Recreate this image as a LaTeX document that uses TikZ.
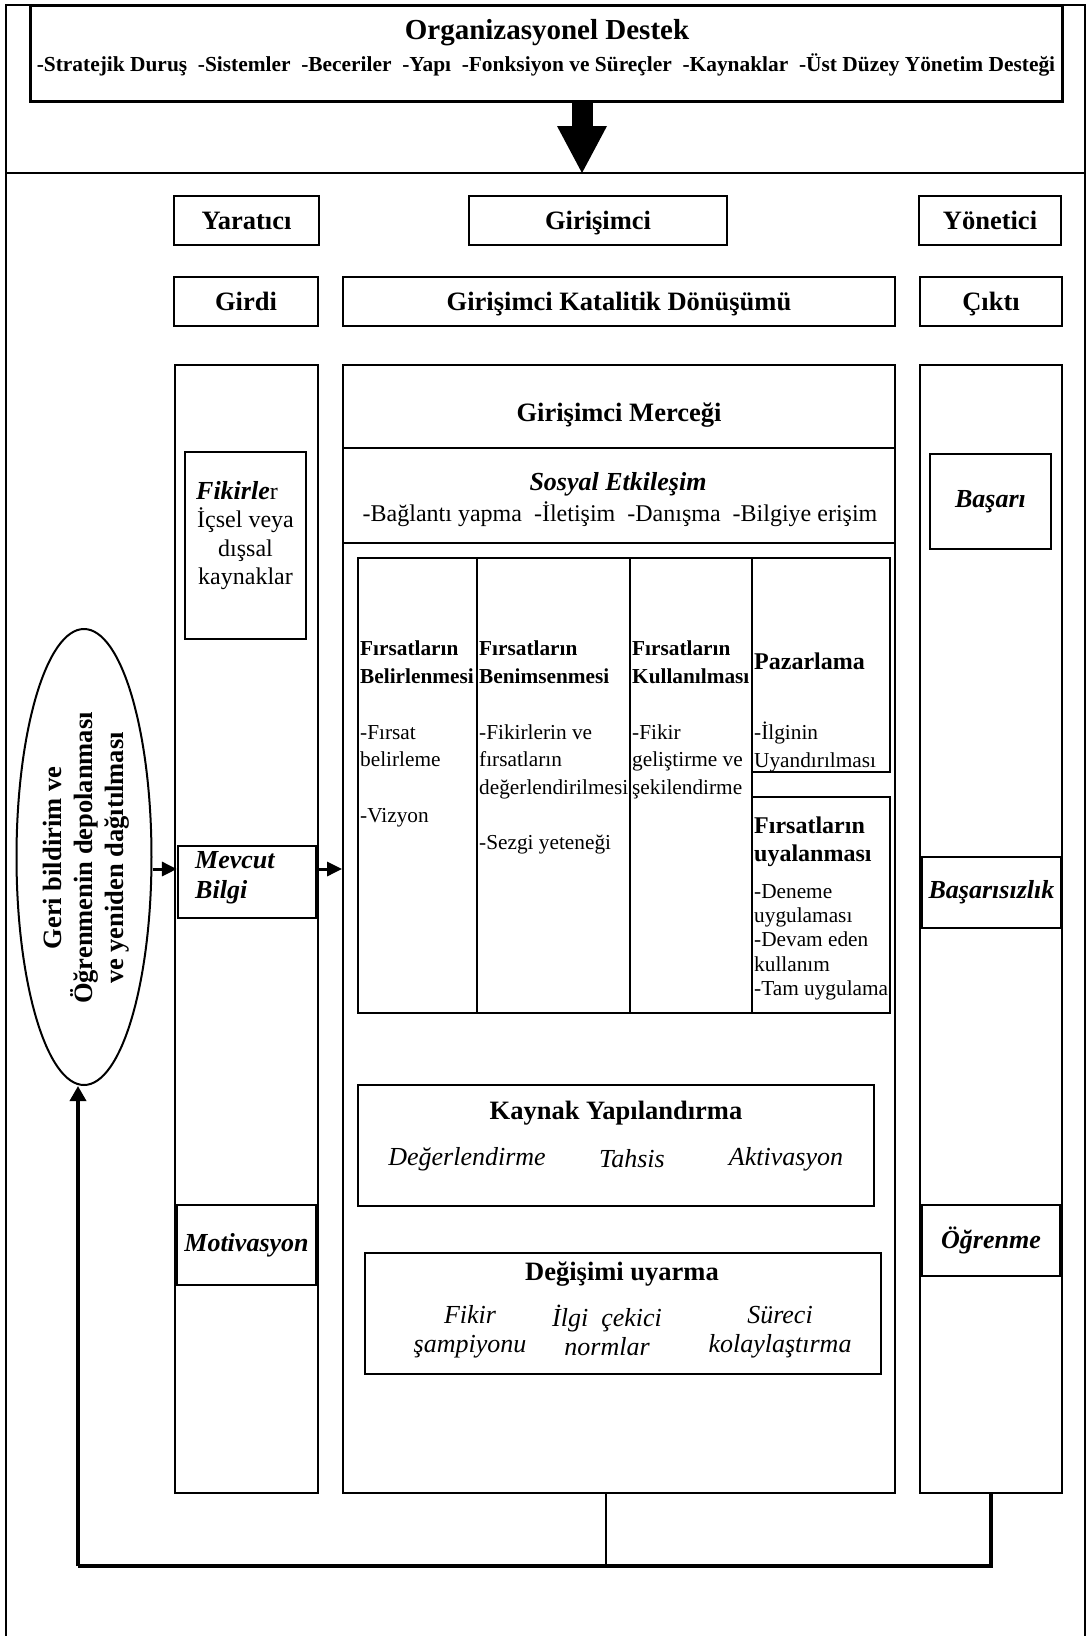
\documentclass[tikz,border=0pt]{standalone}
\usepackage{fontspec}
\setmainfont{Liberation Serif}
\usetikzlibrary{arrows.meta,positioning,shapes.geometric}

\begin{document}
\begin{tikzpicture}[x=1pt,y=-1pt,
    box/.style={draw,line width=2.2pt,inner sep=0pt,align=center},
    hdbox/.style={box,hd,text height=17pt,text depth=0pt,minimum height=49pt},
    colbox/.style={draw,line width=1.8pt,inner sep=0pt},
    hd/.style={font=\fontsize{26.5}{30}\selectfont\bfseries},
    bi/.style={font=\fontsize{26}{30}\selectfont\bfseries\itshape},
    txt/.style={font=\fontsize{24}{28.3}\selectfont,align=center},
    cell/.style={font=\fontsize{21.3}{27.7}\selectfont,align=left,anchor=north west,inner sep=0pt},
    itm/.style={font=\fontsize{26}{29}\selectfont\itshape,align=center,inner sep=0pt},
    arr/.style={line width=3pt,-{Triangle[length=15pt,width=14pt]}},
    link/.style={line width=3.5pt}]
    \useasboundingbox (0,0) rectangle (1088,1636);
    \draw[line width=2pt] (6,1636) -- (6,5) -- (1085,5) -- (1085,1636);
    \draw[line width=2pt] (6,173) -- (1085,173);

    \node[box,line width=3pt,minimum width=1032pt,minimum height=96pt] (org) at (546,53) {};
    \node[font=\fontsize{29}{33}\selectfont\bfseries] (orgtitle) at (547,33) {Organizasyonel Destek};
    \node[font=\fontsize{21.4}{25}\selectfont\bfseries] (orgitems) at (546,65) {-Stratejik Duruş\ \ -Sistemler\ \ -Beceriler\ \ -Yapı\ \ -Fonksiyon ve Süreçler\ \ -Kaynaklar\ \ -Üst Düzey Yönetim Desteği};
    \coordinate (split) at (582,173);
    \draw[line width=21pt,-{Triangle[length=47pt,width=50pt,line width=0pt]}] (org.south -| split) -- (split);

    \node[hdbox,minimum width=145pt] (yaratici) at (246.5,220.5) {Yaratıcı};
    \node[hdbox,minimum width=258pt] (girisimci) at (598,220.5) {Girişimci};
    \node[hdbox,minimum width=142pt] (yonetici) at (990,220.5) {Yönetici};
    \node[hdbox,minimum width=144pt] (girdi) at (246,301.5) {Girdi};
    \node[hdbox,minimum width=552pt] (donusum) at (619,301.5) {Girişimci Katalitik Dönüşümü};
    \node[hdbox,minimum width=142pt] (cikti) at (991,301.5) {Çıktı};

    \node[colbox,minimum width=143pt,minimum height=1128pt] (colL) at (246.5,929) {};
    \node[colbox,minimum width=552pt,minimum height=1128pt] (colC) at (619,929) {};
    \node[colbox,minimum width=142pt,minimum height=1128pt] (colR) at (991,929) {};

    \draw[line width=2pt] (colC.west |- 0,448) -- (colC.east |- 0,448);
    \draw[line width=2pt] (colC.west |- 0,543) -- (colC.east |- 0,543);
    \node[hd] (mercek) at (619,415) {Girişimci Merceği};
    \node[bi] (sosyal) at (618,484) {Sosyal Etkileşim};
    \node[txt] (sosyalitems) at (620,514) {-Bağlantı yapma\ \ -İletişim\ \ -Danışma\ \ -Bilgiye erişim};

    \node[box,minimum width=119pt,minimum height=455pt] (c1) at (417.5,785.5) {};
    \node[box,minimum width=153pt,minimum height=455pt] (c2) at (553.5,785.5) {};
    \node[box,minimum width=122pt,minimum height=455pt] (c3) at (691,785.5) {};
    \node[box,minimum width=138pt,minimum height=214pt] (pz) at (821,665) {};
    \node[box,minimum width=138pt,minimum height=216pt] (uy) at (821,905) {};
    \node[cell] (c1txt) at (360,641) {\textbf{Fırsatların}\\\textbf{Belirlenmesi}\\[27.7pt]-Fırsat\\belirleme\\[27.7pt]-Vizyon};
    \node[cell] (c2txt) at (479,641) {\textbf{Fırsatların}\\\textbf{Benimsenmesi}\\[27.7pt]-Fikirlerin ve\\fırsatların\\değerlendirilmesi\\[27.7pt]-Sezgi yeteneği};
    \node[cell] (c3txt) at (632,641) {\textbf{Fırsatların}\\\textbf{Kullanılması}\\[27.7pt]-Fikir\\geliştirme ve\\şekilendirme};
    \node[font=\fontsize{24}{28}\selectfont\bfseries,anchor=base west,inner sep=0pt] (pzhead) at (754,669) {Pazarlama};
    \node[cell] (pztxt) at (754,722) {-İlginin\\Uyandırılması};
    \node[cell,font=\fontsize{24}{28}\selectfont\bfseries] (uyhead) at (754,817) {Fırsatların\\uyalanması};
    \node[cell,font=\fontsize{21.3}{24.3}\selectfont] (uytxt) at (754,884) {-Deneme\\uygulaması\\-Devam eden\\kullanım\\-Tam uygulama};

    \node[box,minimum width=516pt,minimum height=121pt] (kaynak) at (616,1145.5) {};
    \node[hd] (kaynakbaslik) at (616,1113) {Kaynak Yapılandırma};
    \node[itm] (deger) at (467,1159) {Değerlendirme};
    \node[itm] (tahsis) at (632,1159) {Tahsis};
    \node[itm] (aktiv) at (786,1159) {Aktivasyon};

    \node[box,minimum width=516pt,minimum height=121pt] (degisim) at (623,1313.5) {};
    \node[hd] (degisimbaslik) at (622,1274) {Değişimi uyarma};
    \node[itm] (fikirsamp) at (470,1332) {Fikir\\şampiyonu};
    \node[itm] (ilgi) at (607,1330) {İlgi\ \ çekici\\normlar};
    \node[itm] (sureci) at (780,1332) {Süreci\\kolaylaştırma};

    \node[box,minimum width=121pt,minimum height=187pt] (fikir) at (245.5,545.5) {};
    \node[txt] (fikirtxt) at (245.5,535.5) {{\fontsize{26}{28.3}\selectfont\bfseries\itshape Fikirle}r\hspace*{17pt}\\İçsel veya\\dışsal\\kaynaklar};
    \node[box,minimum width=138pt,minimum height=72pt] (mb) at (247,882) {};
    \node[bi,align=left,anchor=west,inner sep=0pt] (mbtxt) at (195,878) {Mevcut\\Bilgi};
    \node[box,bi,minimum width=139pt,minimum height=80pt] (motiv) at (246.5,1245) {Motivasyon};

    \node[box,bi,minimum width=121pt,minimum height=95pt] (basari) at (990.5,501.5) {Başarı};
    \node[box,bi,minimum width=139pt,minimum height=71pt] (basarisiz) at (991.5,892.5) {Başarısızlık};
    \node[box,bi,minimum width=138pt,minimum height=71pt] (ogrenme) at (991,1240.5) {Öğrenme};

    \node[ellipse,draw,line width=2pt,minimum width=135pt,minimum height=456pt,inner sep=0pt] (fb) at (84,857) {};
    \node[rotate=90,align=center,font=\fontsize{26.5}{31}\selectfont\bfseries] (fbtxt) at (86,858) {Geri bildirim ve\\Öğrenmenin depolanması\\ve yeniden dağıtılması};

    \coordinate (arry) at (0,869);
    \draw[arr] (fb.east |- arry) -- (mb.west |- arry);
    \draw[arr] (mb.east |- arry) -- (colC.west |- arry);

    \coordinate (cdrop) at (606,1566);
    \coordinate (ldrop) at (78,1566);
    \draw[line width=2.5pt] (colC.south -| cdrop) -- (cdrop);
    \draw[link] (colR.south) -- (colR.south |- cdrop) -- (ldrop);
    \draw[link,-{Triangle[length=15pt,width=16pt]}] (ldrop) -- (fb.south -| ldrop);
\end{tikzpicture}
\end{document}
